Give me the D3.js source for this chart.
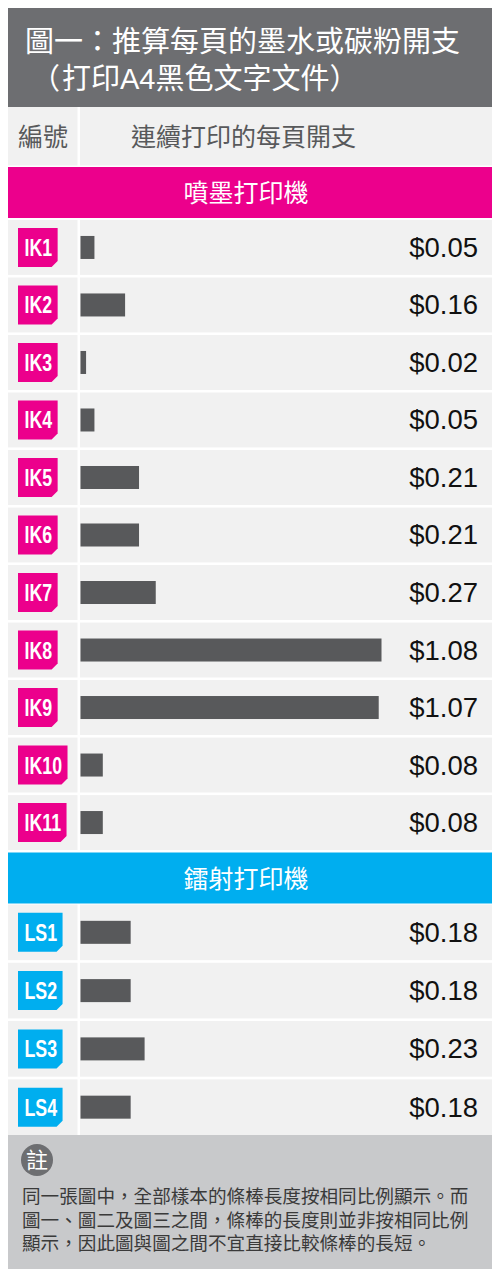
<!DOCTYPE html>
<html>
<head>
<meta charset="utf-8">
<script src="https://cdn.jsdelivr.net/npm/d3@7"></script>
<style>
  body { margin: 0; background: #fff; }
  svg { display: block; }
</style>
</head>
<body>
<svg id="chart" width="500" height="1277"></svg>
<script>
// data
var titleLines = ['圖一：推算每頁的墨水或碳粉開支', '（打印A4黑色文字文件）'];
var colHeaders = ['編號', '連續打印的每頁開支'];
var inkjetLabel = '噴墨打印機';
var inkjetIds = ['IK1', 'IK2', 'IK3', 'IK4', 'IK5', 'IK6', 'IK7', 'IK8', 'IK9', 'IK10', 'IK11'];
var inkjetCosts = [0.05, 0.16, 0.02, 0.05, 0.21, 0.21, 0.27, 1.08, 1.07, 0.08, 0.08];
var laserLabel = '鐳射打印機';
var laserIds = ['LS1', 'LS2', 'LS3', 'LS4'];
var laserCosts = [0.18, 0.18, 0.23, 0.18];
var noteTitle = '註';
var noteLines = [
    '同一張圖中，全部樣本的條棒長度按相同比例顯示。而',
    '圖一、圖二及圖三之間，條棒的長度則並非按相同比例',
    '顯示，因此圖與圖之間不宜直接比較條棒的長短。'
];

var svg = d3.select('#chart');
var cjk = '"Noto Sans CJK TC", "Noto Sans CJK SC", sans-serif';
var latin = 'Helvetica, "Liberation Sans", Arial, sans-serif';
// latin face first (for A4 and tighter line boxes), CJK glyphs fall through to Noto
var mixed = '"Liberation Sans", "Noto Sans CJK TC", sans-serif';

var left = 8, right = 492, divX = 77.5;
var magenta = '#ec008c', cyan = '#00aeef', darkGrey = '#6d6e71', cellBg = '#f1f1f1', barFill = '#58595b';

// one scale for all bars so lengths are comparable
var xScale = d3.scaleLinear().domain([0, 1.08]).range([0, 301]);
var barX = 80.5;

// header
svg.append('rect')
    .attr('x', left).attr('y', 8)
    .attr('width', right - left).attr('height', 99)
    .style('fill', darkGrey);

svg.append('text')
    .attr('x', 25).attr('y', 52)
    .style('font-family', mixed)
    .style('font-size', '29px')
    .style('fill', '#fff')
    .text(titleLines[0]);

// second line: the opening bracket comes out narrow, so nudge the line in
svg.append('text')
    .attr('x', 31).attr('y', 89)
    .attr('dx', '0 2')
    .style('font-family', mixed)
    .style('font-size', '29px')
    .style('fill', '#fff')
    .text(titleLines[1]);

// column header
svg.append('rect')
    .attr('x', left).attr('y', 107)
    .attr('width', divX - left).attr('height', 58.5)
    .style('fill', cellBg);
svg.append('rect')
    .attr('x', divX + 2.5).attr('y', 107)
    .attr('width', right - divX - 2.5).attr('height', 58.5)
    .style('fill', cellBg);

svg.append('text')
    .attr('x', 18).attr('y', 146)
    .style('font-family', cjk).style('font-size', '25px')
    .style('fill', '#58595b')
    .text(colHeaders[0]);
svg.append('text')
    .attr('x', 131).attr('y', 146)
    .style('font-family', cjk).style('font-size', '25px')
    .style('fill', '#58595b')
    .text(colHeaders[1]);

function drawGroup(label, color, bandTop, ids, costs, rowRange) {
    // coloured band with the group name
    svg.append('rect')
        .attr('x', left).attr('y', bandTop)
        .attr('width', right - left).attr('height', 51)
        .style('fill', color);
    svg.append('text')
        .attr('x', 246).attr('y', bandTop + 35)
        .attr('text-anchor', 'middle')
        .style('font-family', cjk).style('font-size', '25px')
        .style('fill', '#fff')
        .text(label);

    var yScale = d3.scaleBand()
        .domain(ids)
        .range(rowRange)
        .paddingInner(0.045);
    var bw = yScale.bandwidth();

    var rows = svg.append('g').selectAll('g')
        .data(ids.map(function(id, i) { return {id: id, cost: costs[i]}; }))
        .join('g')
        .attr('transform', function(d) { return 'translate(0,' + yScale(d.id) + ')'; });

    rows.append('rect')
        .attr('x', left).attr('y', 0)
        .attr('width', divX - left).attr('height', bw)
        .style('fill', cellBg);
    rows.append('rect')
        .attr('x', divX + 2.5).attr('y', 0)
        .attr('width', right - divX - 2.5).attr('height', bw)
        .style('fill', cellBg);

    // badge: measure the label, squeeze it like a condensed face, fit the box round it
    var badge = rows.append('g');
    badge.append('path').style('fill', color);
    var badgeText = badge.append('text')
        .attr('y', bw / 2 + 8.5)
        .style('font-family', latin)
        .style('font-weight', 'bold')
        .style('font-size', '24px')
        .style('fill', '#fff')
        .text(function(d) { return d.id; });

    badgeText.each(function() {
        var tw = this.getComputedTextLength() * 0.74;
        var w = Math.max(39, tw + 12);
        var h = 39, x0 = 18, y0 = bw / 2 - h / 2, cut = 6;
        d3.select(this)
            .attr('x', x0 + (w - tw) / 2 + 0.5)
            .attr('textLength', tw)
            .attr('lengthAdjust', 'spacingAndGlyphs');
        d3.select(this.parentNode).select('path')
            .attr('d', 'M' + x0 + ',' + y0 + 'h' + w + 'v' + (h - cut) +
                'l' + (-cut) + ',' + cut + 'H' + x0 + 'Z');
    });

    rows.append('rect')
        .attr('class', 'bar')
        .attr('x', barX)
        .attr('y', bw / 2 - 11.5)
        .attr('height', 23)
        .attr('width', function(d) { return xScale(d.cost); })
        .style('fill', barFill);

    rows.append('text')
        .attr('x', 478)
        .attr('y', bw / 2 + 9.5)
        .attr('text-anchor', 'end')
        .style('font-family', latin)
        .style('font-size', '27.5px')
        .style('fill', '#111')
        .text(function(d) { return '$' + d.cost.toFixed(2); });
}

drawGroup(inkjetLabel, magenta, 167, inkjetIds, inkjetCosts, [220, 850]);
drawGroup(laserLabel, cyan, 852.5, laserIds, laserCosts, [904.5, 1135]);

// note box
svg.append('rect')
    .attr('x', left).attr('y', 1135)
    .attr('width', right - left).attr('height', 134)
    .style('fill', '#c8c9cb');

svg.append('circle')
    .attr('cx', 37).attr('cy', 1160).attr('r', 16)
    .style('fill', darkGrey);
svg.append('text')
    .attr('x', 37).attr('y', 1168)
    .attr('text-anchor', 'middle')
    .style('font-family', cjk).style('font-size', '22px')
    .style('fill', '#fff')
    .text(noteTitle);

svg.selectAll('text.note')
    .data(noteLines)
    .join('text')
    .attr('class', 'note')
    .attr('x', 22)
    .attr('y', function(d, i) { return 1203 + i * 23.5; })
    .style('font-family', mixed)
    .style('font-size', '18.6px')
    .style('fill', '#3a3a3a')
    .text(function(d) { return d; });
</script>
</body>
</html>
